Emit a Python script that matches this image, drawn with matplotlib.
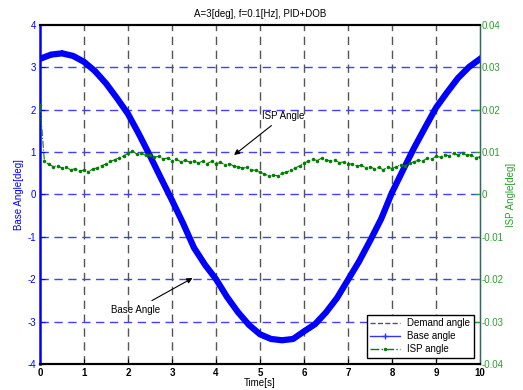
import matplotlib.pyplot as plt
import numpy as np
from matplotlib.lines import Line2D

plt.rcParams['font.family'] = ['Liberation Sans', 'DejaVu Sans']
plt.rcParams['axes.unicode_minus'] = False

# Dados
tempo_base = np.arange(0, 10.01, 0.25)
base_angle = [3.20, 3.30, 3.33, 3.27, 3.13, 2.91, 2.62, 2.27, 1.90, 1.42, 0.91, 0.38,
              -0.14, -0.68, -1.26, -1.66, -2.00, -2.42, -2.78, -3.08, -3.30, -3.41,
              -3.44, -3.41, -3.23, -3.06, -2.78, -2.44, -2.01, -1.58, -1.09, -0.58,
              0.05, 0.58, 1.10, 1.58, 2.05, 2.41, 2.75, 3.01, 3.20]
demand_angle = base_angle

tempo_isp = np.arange(0, 10.001, 0.1)
isp_angle = [0.0210, 0.0078, 0.0071, 0.0066, 0.0068, 0.0062, 0.0064, 0.0058, 0.0061, 0.0055,
             0.0058, 0.0054, 0.0060, 0.0063, 0.0068, 0.0072, 0.0078, 0.0082, 0.0087, 0.0091,
             0.0097, 0.0103, 0.0095, 0.0098, 0.0092, 0.0094, 0.0088, 0.0090, 0.0084, 0.0086,
             0.0080, 0.0083, 0.0077, 0.0081, 0.0076, 0.0080, 0.0074, 0.0079, 0.0073, 0.0078,
             0.0072, 0.0076, 0.0070, 0.0073, 0.0067, 0.0066, 0.0062, 0.0064, 0.0058, 0.0057,
             0.0052, 0.0049, 0.0043, 0.0046, 0.0044, 0.0050, 0.0052, 0.0058, 0.0062, 0.0068,
             0.0074, 0.0079, 0.0083, 0.0080, 0.0086, 0.0082, 0.0079, 0.0081, 0.0075, 0.0077,
             0.0071, 0.0073, 0.0067, 0.0069, 0.0063, 0.0066, 0.0060, 0.0064, 0.0058, 0.0065,
             0.0061, 0.0066, 0.0070, 0.0068, 0.0074, 0.0077, 0.0081, 0.0079, 0.0086, 0.0084,
             0.0090, 0.0088, 0.0094, 0.0091, 0.0097, 0.0093, 0.0099, 0.0092, 0.0094, 0.0087,
             0.0089]

azul = '#0000ff'
verde = '#008000'
verde_txt = '#2ca02c'
cinza = '#555555'

fig = plt.figure(figsize=(5.23, 3.9), dpi=100)
ax1 = fig.add_axes([0.0765, 0.0667, 0.8415, 0.8693])
ax2 = ax1.twinx()

# grades
for x in range(1, 10):
    ax1.axvline(x, color=cinza, ls=(0, (6, 4)), lw=1.0, zorder=0)
for y in [-3, -2, -1, 0, 1, 2, 3]:
    ax1.axhline(y, color='#4040ff', ls=(0, (6, 4)), lw=1.0, zorder=0)

ax1.plot(tempo_base, demand_angle, color=cinza, ls='--', lw=1)
ax1.plot(tempo_base, base_angle, color=azul, lw=4.5, marker='+', ms=5, mew=1.2)
ax2.plot(tempo_isp, isp_angle, color=verde, ls='-.', lw=0.8, marker='.', ms=3)

ax1.set_xlim(0, 10)
ax1.set_ylim(-4, 4)
ax2.set_ylim(-0.04, 0.04)
ax1.set_xticks(range(0, 11))
ax1.set_yticks(range(-4, 5))
ax2.set_yticks([-0.04, -0.03, -0.02, -0.01, 0, 0.01, 0.02, 0.03, 0.04])
ax2.set_yticklabels(['-0.04', '-0.03', '-0.02', '-0.01', '0', '0.01', '0.02', '0.03', '0.04'])

ax1.tick_params(axis='x', direction='in', labelsize=7, colors='black', pad=3)
ax1.tick_params(axis='y', direction='in', labelsize=7, colors=azul, pad=3)
ax2.tick_params(axis='y', direction='in', labelsize=7, colors=verde_txt, pad=1)
for lab in ax1.get_xticklabels():
    lab.set_fontweight('bold')

ax1.spines['left'].set_color(azul)
ax1.spines['left'].set_linewidth(1.8)
ax2.spines['left'].set_visible(False)
ax2.spines['right'].set_color('#336666')
ax2.spines['right'].set_linewidth(1.0)
for s in ['top', 'bottom']:
    ax2.spines[s].set_linewidth(1.5)
    ax1.spines[s].set_linewidth(1.5)

ax1.set_xlabel('Time[s]', fontsize=7, labelpad=0)
ax1.set_ylabel('Base Angle[deg]', fontsize=7, color=azul, labelpad=2)
ax2.set_ylabel('ISP Angle[deg]', fontsize=7, color=verde_txt, labelpad=2)
ax1.set_title('A=3[deg], f=0.1[Hz], PID+DOB', fontsize=7, pad=6)

ax1.annotate('ISP Angle', xy=(4.36, 0.89), xytext=(5.05, 1.85), fontsize=7,
             ha='left', va='center',
             arrowprops=dict(arrowstyle='-|>', color='black', lw=0.8, mutation_scale=8))
ax1.annotate('Base Angle', xy=(3.52, -1.94), xytext=(2.17, -2.72), fontsize=7,
             ha='center', va='center',
             arrowprops=dict(arrowstyle='-|>', color='black', lw=0.8, mutation_scale=8))

handles = [Line2D([], [], color=cinza, ls='--', lw=1),
           Line2D([], [], color='#3333ff', lw=1, marker='+', ms=5),
           Line2D([], [], color=verde, ls='-.', lw=1, marker='.', ms=3)]
leg = ax2.legend(handles, ['Demand angle', 'Base angle', 'ISP angle'], loc='lower right',
                 fontsize=7, fancybox=False, framealpha=1, edgecolor='black',
                 borderaxespad=0.6, handlelength=3, labelspacing=0.3)
leg.get_frame().set_linewidth(1.0)

plt.savefig('out.png', dpi=100)
